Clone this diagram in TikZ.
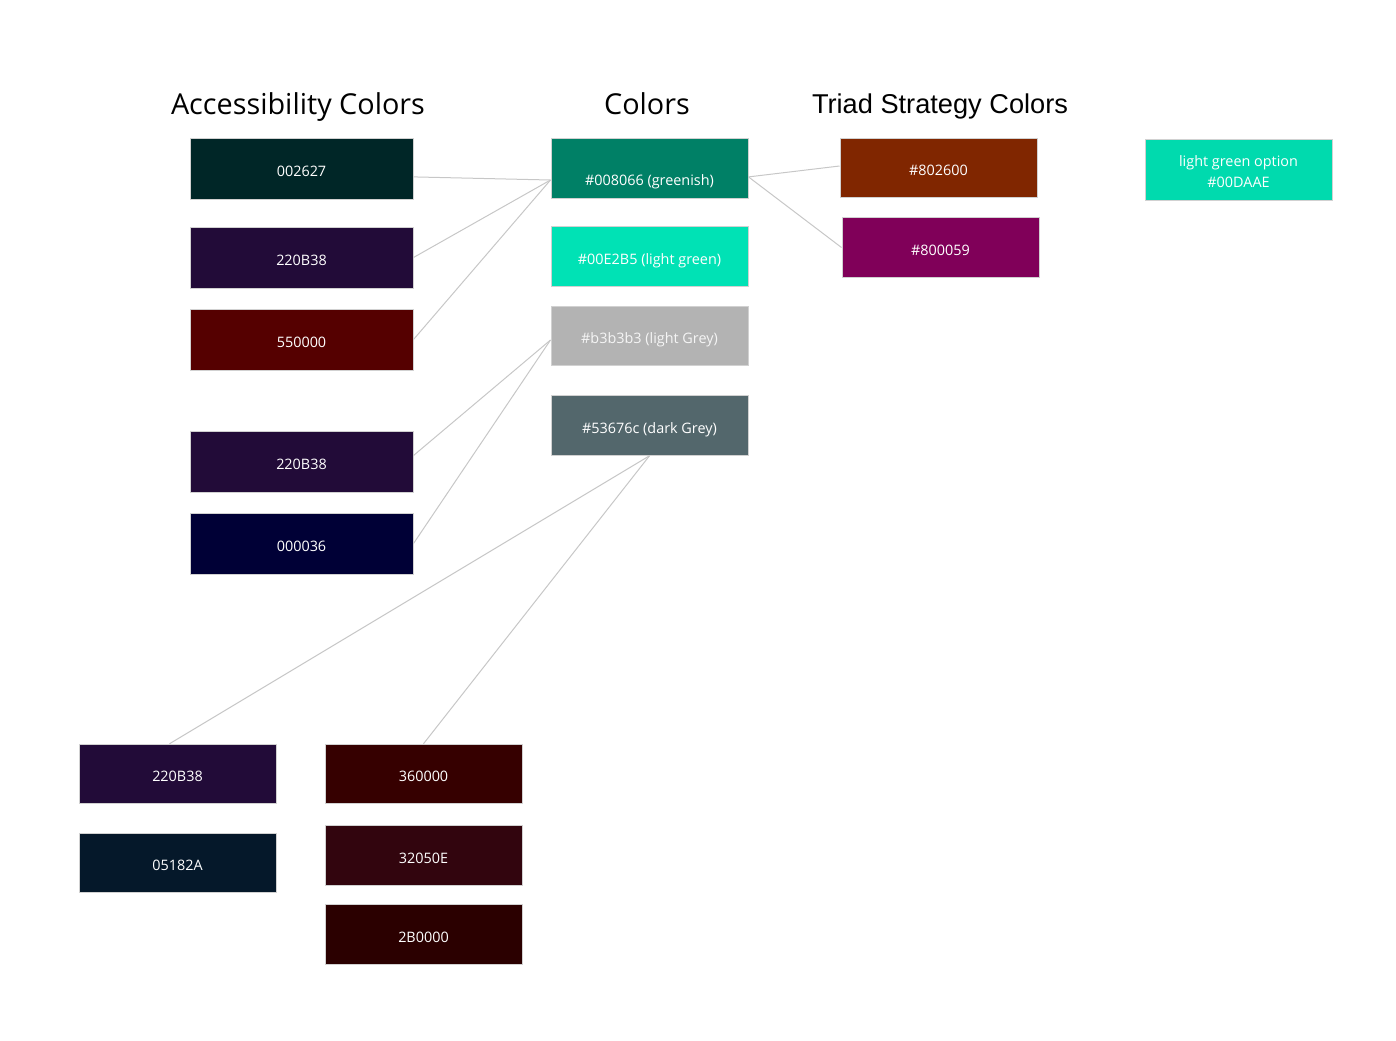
\documentclass[tikz,border=0pt]{standalone}
\usepackage{fontspec}
\setmainfont{Open Sans}
\newfontfamily\triadfont{Liberation Sans}
\usetikzlibrary{positioning}
\definecolor{teal1}{HTML}{002627}
\definecolor{plum1}{HTML}{220B38}
\definecolor{wine1}{HTML}{550000}
\definecolor{navy1}{HTML}{000036}
\definecolor{green1}{HTML}{008066}
\definecolor{mint1}{HTML}{00E2B5}
\definecolor{mint2}{HTML}{00DAAE}
\definecolor{lgrey}{HTML}{B3B3B3}
\definecolor{dgrey}{HTML}{53676C}
\definecolor{rust1}{HTML}{802600}
\definecolor{berry1}{HTML}{800059}
\definecolor{ink1}{HTML}{05182A}
\definecolor{wine2}{HTML}{360000}
\definecolor{wine3}{HTML}{32050E}
\definecolor{wine4}{HTML}{2B0000}

\begin{document}
\begin{tikzpicture}[x=0.5pt,y=-0.5pt,
  swatch/.style={draw=black!18,line width=0.5pt,text=white,inner sep=0pt,
    text height=7.7pt,text depth=0pt,
    minimum width=111.5pt,minimum height=30.5pt,font=\fontsize{7.2}{10.5}\selectfont},
  midswatch/.style={swatch,minimum width=98.5pt,minimum height=29.75pt},
  heading/.style={font=\fontsize{14.4}{16}\selectfont},
  link/.style={draw=black!22,line width=0.5pt}]
  \useasboundingbox (0,0) rectangle (1396,1040);
  % headings
  \node[heading] (hacc) at (298,107) {Accessibility Colors};
  \node[heading] (hcol) at (647,104) {Colors};
  \node[heading,font=\triadfont\fontsize{13.6}{16}\selectfont] (htri) at (940,106) {Triad Strategy Colors};
  % accessibility column
  \node[swatch,fill=teal1] (a1) at (301.5,168.5) {002627};
  \node[swatch,fill=plum1] (a2) at (301.5,257.5) {220B38};
  \node[swatch,fill=wine1] (a3) at (301.5,339.5) {550000};
  \node[swatch,fill=plum1] (a4) at (301.5,461.5) {220B38};
  \node[swatch,fill=navy1] (a5) at (301.5,543.5) {000036};
  % base colors
  \node[midswatch,fill=green1] (c1) at (649.5,168.5) {\raisebox{-4.5pt}[0pt][0pt]{\#008066 (greenish)}};
  \node[midswatch,fill=mint1] (c2) at (649.5,256.5) {\#00E2B5 (light green)};
  \node[midswatch,fill=lgrey,text=black!4] (c3) at (649.5,336) {\#b3b3b3 (light Grey)};
  \node[midswatch,fill=dgrey] (c4) at (649.5,425.5) {\#53676c (dark Grey)};
  % triad
  \node[midswatch,fill=rust1] (t1) at (938.5,168) {\#802600};
  \node[midswatch,fill=berry1] (t2) at (940.5,247.5) {\#800059};
  \node[midswatch,text height=,text depth=,align=center,minimum width=93.5pt,minimum height=30.5pt,fill=mint2] (g1) at (1238.5,169.5) {\rule{0pt}{7.5pt}light green option\\\#00DAAE};
  % lower groups
  \node[midswatch,fill=plum1] (b1) at (177.5,774) {220B38};
  \node[midswatch,fill=ink1] (b2) at (177.5,863) {05182A};
  \node[midswatch,fill=wine2] (r1) at (423.5,774) {360000};
  \node[midswatch,fill=wine3] (r2) at (423.5,855.5) {32050E};
  \node[midswatch,fill=wine4] (r3) at (423.5,934.5) {2B0000};
  % connectors
  \draw[link] ([yshift=-4.2pt]a1.east) -- ([yshift=-5.75pt]c1.west);
  \draw[link] (a2.east) -- ([yshift=-5.75pt]c1.west);
  \draw[link] (a3.east) -- ([yshift=-5.75pt]c1.west);
  \draw[link] ([yshift=3pt]a4.east) -- ([yshift=-2pt]c3.west);
  \draw[link] (a5.east) -- ([yshift=-2pt]c3.west);
  \draw[link] (c4.south) -- ([xshift=-4pt]b1.north);
  \draw[link] (c4.south) -- (r1.north);
  \draw[link] ([yshift=-4.2pt]c1.east) -- ([yshift=1pt]t1.west);
  \draw[link] ([yshift=-4.2pt]c1.east) -- (t2.west);
\end{tikzpicture}
\end{document}
